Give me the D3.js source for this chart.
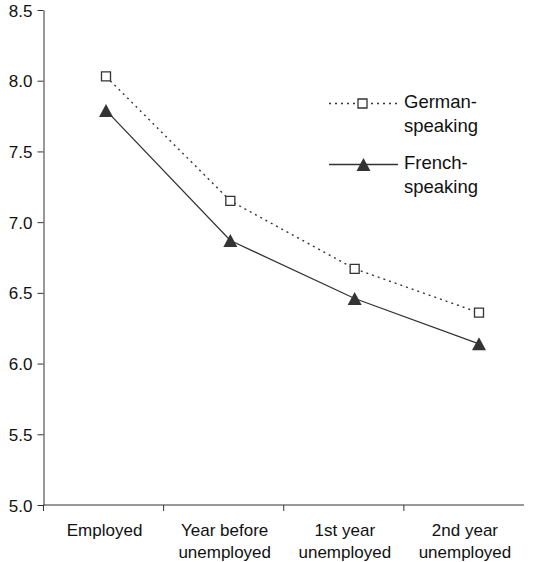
<!DOCTYPE html>
<html><head><meta charset="utf-8">
<script src="https://cdn.jsdelivr.net/npm/d3@7"></script>
<style>body{margin:0;background:#fff}text{font-family:"Liberation Sans",Arial,sans-serif;fill:#111}</style>
</head><body><svg id="c" width="541" height="562"></svg>
<script>
const categories = [["Employed"], ["Year before", "unemployed"], ["1st year", "unemployed"], ["2nd year", "unemployed"]];
const german = [8.03, 7.15, 6.67, 6.36];
const french = [7.79, 6.87, 6.46, 6.14];
const yTicks = [5.0, 5.5, 6.0, 6.5, 7.0, 7.5, 8.0, 8.5];
const seriesNames = [["German-", "speaking"], ["French-", "speaking"]];

const svg = d3.select("#c");
const mLeft = 43.5, mRight = 524, mTop = 10, mBottom = 505;
const idx = d3.range(categories.length);
const x = d3.scaleBand().domain(idx).range([mLeft, mRight]);
const xp = d3.scalePoint().domain(idx).range([106, 479]);
const y = d3.scaleLinear().domain([5, 8.5]).range([mBottom, mTop]);
const col = "#333";
const fs = "17px";

// y axis
const ya = svg.append("g").attr("transform", `translate(${mLeft},0)`)
  .call(d3.axisLeft(y).tickValues(yTicks).tickFormat(d3.format(".1f")).tickSize(6).tickSizeOuter(0));
ya.select(".domain").attr("stroke", col);
ya.selectAll(".tick line").attr("stroke", col);
ya.selectAll("text").style("font-size", fs).attr("x", -11).attr("dy", "0.36em");

// x axis
const xa = svg.append("g").attr("transform", `translate(0,${mBottom})`);
xa.append("line").attr("x1", mLeft).attr("x2", mRight).attr("stroke", col);
xa.selectAll("line.t").data(idx).join("line")
  .attr("class", "t").attr("x1", d => x(d)).attr("x2", d => x(d)).attr("y1", 0).attr("y2", 6).attr("stroke", col);
xa.selectAll("text").data(categories).join("text")
  .attr("text-anchor", "middle").style("font-size", fs)
  .attr("transform", (d, i) => `translate(${x(i) + x.bandwidth() / 2 + 1},31)`)
  .selectAll("tspan").data(d => d).join("tspan")
  .attr("x", 0).attr("dy", (d, i) => i === 0 ? 0 : 22).text(d => d);

const line = d3.line().x((d, i) => xp(i)).y(d => y(d));

svg.append("path").datum(german).attr("d", line).attr("fill", "none").attr("stroke", col)
  .attr("stroke-width", 1.4).attr("stroke-dasharray", "2,4");
svg.append("path").datum(french).attr("d", line).attr("fill", "none").attr("stroke", col).attr("stroke-width", 1.3);

const triType = { draw(ctx, size) { const h = Math.sqrt(size) ; ctx.moveTo(0, -h / 2); ctx.lineTo(h / 2 + 0.5, h / 2); ctx.lineTo(-h / 2 - 0.5, h / 2); ctx.closePath(); } };
const sq = d3.symbol().type(d3.symbolSquare).size(81);
const tri = d3.symbol().type(triType).size(169);
svg.selectAll("path.g").data(german).join("path").attr("class", "g")
  .attr("d", sq).attr("transform", (d, i) => `translate(${xp(i)},${y(d)})`)
  .attr("fill", "#fff").attr("stroke", col).attr("stroke-width", 1.3);
svg.selectAll("path.f").data(french).join("path").attr("class", "f")
  .attr("d", tri).attr("transform", (d, i) => `translate(${xp(i)},${y(d)})`)
  .attr("fill", col);

// legend
const lg = svg.append("g");
const ly = [103.5, 164.5];
lg.append("line").attr("x1", 329).attr("x2", 398).attr("y1", ly[0]).attr("y2", ly[0])
  .attr("stroke", col).attr("stroke-width", 1.4).attr("stroke-dasharray", "2,4");
lg.append("path").attr("d", sq).attr("transform", `translate(362.5,${ly[0]})`).attr("fill", "#fff").attr("stroke", col).attr("stroke-width", 1.3);
lg.append("line").attr("x1", 329).attr("x2", 398).attr("y1", ly[1]).attr("y2", ly[1]).attr("stroke", col).attr("stroke-width", 1.3);
lg.append("path").attr("d", tri).attr("transform", `translate(363.5,${ly[1]})`).attr("fill", col);
seriesNames.forEach((n, k) => {
  lg.append("text").attr("x", 404).attr("y", ly[k] + 4.5).style("font-size", "18.5px")
    .selectAll("tspan").data(n).join("tspan").attr("x", 404).attr("dy", (d, i) => i ? 24 : 0).text(d => d);
});
</script></body></html>
